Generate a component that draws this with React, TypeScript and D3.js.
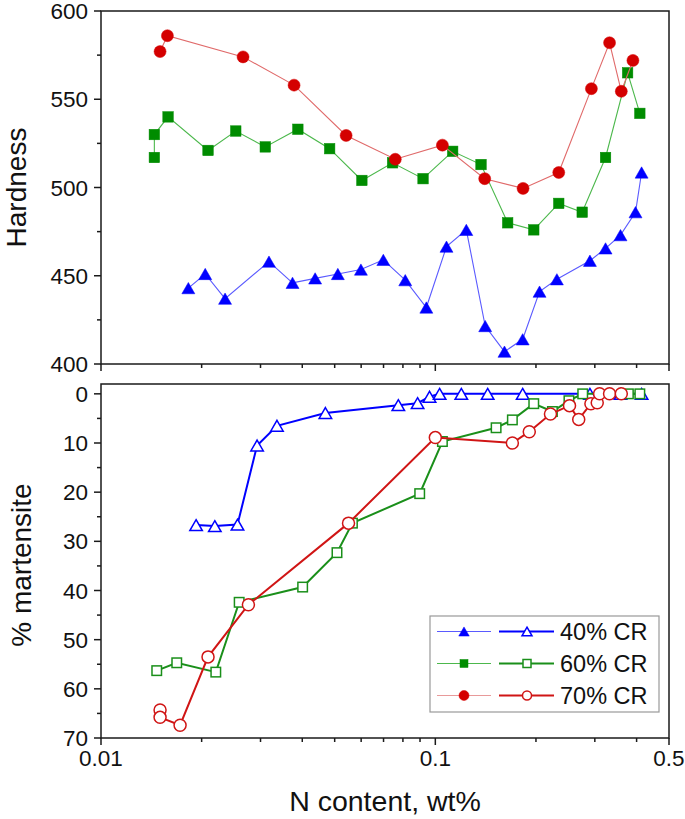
import React from "react";
import * as d3 from "d3";

// ---- Hardness panel data ----
const hBlueN = [0.01825, 0.0205, 0.0235, 0.0318, 0.0374, 0.0437, 0.0511, 0.0599, 0.0699, 0.0813, 0.094, 0.108, 0.1238, 0.141, 0.161, 0.1825, 0.205, 0.231, 0.29, 0.323, 0.358, 0.397, 0.414];
const hBlueV = [443, 451, 437, 458, 446, 448.5, 451, 453.5, 459, 447.5, 432, 466.5, 476, 421.5, 407, 414, 441, 448, 458.5, 465.5, 473, 486, 508.5];
const hGreenN = [0.01444, 0.01444, 0.01587, 0.0209, 0.0253, 0.031, 0.0388, 0.0483, 0.0603, 0.0745, 0.0919, 0.1127, 0.137, 0.1646, 0.197, 0.234, 0.275, 0.323, 0.376, 0.409];
const hGreenV = [517, 530, 540, 521, 532, 523, 533, 522, 504, 514, 505, 520.5, 513, 480, 476, 491, 486, 517, 565, 542];
const hRedN = [0.01502, 0.0158, 0.0266, 0.0378, 0.0541, 0.0759, 0.105, 0.1405, 0.183, 0.234, 0.293, 0.332, 0.36, 0.39];
const hRedV = [577, 586, 574, 558, 529.5, 516, 524, 505, 499.5, 508.5, 556, 582, 554.5, 572];

// ---- Martensite panel data ----
const mBlueN = [0.01925, 0.0219, 0.0256, 0.0293, 0.0336, 0.0469, 0.0775, 0.0885, 0.0961, 0.103, 0.1196, 0.1434, 0.1825, 0.29, 0.358, 0.414];
const mBlueV = [26.7, 26.9, 26.6, 10.5, 6.5, 3.9, 2.3, 1.9, 0.6, 0, 0, 0, 0, 0, 0, 0];
const mGreenN = [0.01468, 0.01685, 0.02205, 0.0259, 0.0401, 0.0508, 0.0565, 0.0898, 0.105, 0.152, 0.17, 0.197, 0.224, 0.251, 0.276, 0.378, 0.409];
const mGreenV = [56.3, 54.7, 56.6, 42.4, 39.3, 32.3, 26.3, 20.3, 9.7, 6.9, 5.3, 2.0, 3.6, 1.4, 0, 0, 0];
const mRedN = [0.01502, 0.01502, 0.01724, 0.0209, 0.0276, 0.055, 0.1, 0.17, 0.191, 0.221, 0.252, 0.2685, 0.292, 0.305, 0.31, 0.332, 0.36];
const mRedV = [64.3, 65.8, 67.4, 53.5, 42.9, 26.3, 8.9, 10.0, 7.7, 4.1, 2.4, 5.2, 2.0, 1.8, 0, 0, 0];

const xMajorTicks = [0.01, 0.1, 0.5];
const xMinorTicks = [0.02, 0.03, 0.04, 0.05, 0.06, 0.07, 0.08, 0.09, 0.2, 0.3, 0.4];
const xTickLabels = ["0.01", "0.1", "0.5"];
const hMajorTicks = [400, 450, 500, 550, 600];
const hMinorTicks = [425, 475, 525, 575];
const mMajorTicks = [0, 10, 20, 30, 40, 50, 60, 70];
const mMinorTicks = [5, 15, 25, 35, 45, 55, 65];
const legendLabels = ["40% CR", "60% CR", "70% CR"];

const FONT = "'Liberation Sans', Arial, Helvetica, sans-serif";

const C = {
  blue: "#0000ff", blueThin: "#5a5aff",
  green: "#008c00", greenThin: "#4cb84c", greenThick: "#1a8f1a",
  red: "#d40000", redThin: "#e06a6a", redThick: "#d01515",
  redLegendThin: "#e89a9a",
};

type Shape = "tri" | "sq" | "circ";

function Marker({ shape, x, y, size, fill, stroke, sw }: { shape: Shape; x: number; y: number; size: number; fill: string; stroke: string; sw: number }) {
  if (shape === "circ") return <circle cx={x} cy={y} r={size / 2} fill={fill} stroke={stroke} strokeWidth={sw} />;
  if (shape === "sq") return <rect x={x - size / 2} y={y - size / 2} width={size} height={size} fill={fill} stroke={stroke} strokeWidth={sw} />;
  const w = size, h = size * 0.87;
  const pts = `${x},${y - h / 2} ${x + w / 2},${y + h / 2} ${x - w / 2},${y + h / 2}`;
  return <polygon points={pts} fill={fill} stroke={stroke} strokeWidth={sw} strokeLinejoin="miter" />;
}

export default function App() {
  const W = 685, H = 819;
  const x0 = 101, x1 = 669;
  const tTop = 11, tBot = 364;
  const bTop = 384, bBot = 738;

  const x = d3.scaleLog().domain([0.01, 0.5]).range([x0, x1]);
  const yH = d3.scaleLinear().domain([400, 600]).range([tBot, tTop]);
  const yM = d3.scaleLinear().domain([-2, 70]).range([bTop, bBot]);

  const line = (xs: number[], vs: number[], ys: d3.ScaleLinear<number, number>) =>
    d3.line<number>().x((d, i) => x(xs[i])).y((d) => ys(d))(vs) || "";

  const topSeries = [
    { n: hBlueN, v: hBlueV, shape: "tri" as Shape, col: C.blue, lc: C.blueThin, size: 13 },
    { n: hGreenN, v: hGreenV, shape: "sq" as Shape, col: C.green, lc: C.greenThin, size: 10.5 },
    { n: hRedN, v: hRedV, shape: "circ" as Shape, col: C.red, lc: C.redThin, size: 12 },
  ];
  const botSeries = [
    { n: mBlueN, v: mBlueV, shape: "tri" as Shape, col: C.blue, lc: C.blue, size: 12.5 },
    { n: mGreenN, v: mGreenV, shape: "sq" as Shape, col: C.greenThick, lc: C.greenThick, size: 9.5 },
    { n: mRedN, v: mRedV, shape: "circ" as Shape, col: C.redThick, lc: C.redThick, size: 12 },
  ];

  const axisCol = "#1a1a1a";
  const tickFont = 22.5;

  const legend = { x: 430, y: 616, w: 229, h: 96 };
  const legendRows = [
    { shape: "tri" as Shape, col: C.blue, thin: C.blueThin, thick: C.blue },
    { shape: "sq" as Shape, col: C.green, thin: C.greenThin, thick: C.greenThick },
    { shape: "circ" as Shape, col: C.red, thin: C.redLegendThin, thick: C.redThick },
  ];

  return (
    <svg width={W} height={H} style={{ display: "block", position: "absolute", left: 0, top: 0, background: "#fff" }} fontFamily={FONT}>
      <rect x={0} y={0} width={W} height={H} fill="#fff" />

      {/* Top panel series */}
      {topSeries.map((s, si) => (
        <g key={"t" + si}>
          <path d={line(s.n, s.v, yH)} fill="none" stroke={s.lc} strokeWidth={1.1} />
          {s.v.map((v, i) => (
            <Marker key={i} shape={s.shape} x={x(s.n[i])} y={yH(v)} size={s.size} fill={s.col} stroke={s.col} sw={0.5} />
          ))}
        </g>
      ))}

      {/* Bottom panel series */}
      {botSeries.map((s, si) => (
        <g key={"b" + si}>
          <path d={line(s.n, s.v, yM)} fill="none" stroke={s.lc} strokeWidth={2} />
          {s.v.map((v, i) => (
            <Marker key={i} shape={s.shape} x={x(s.n[i])} y={yM(v)} size={s.size} fill="#fff" stroke={s.col} sw={1.5} />
          ))}
        </g>
      ))}

      {/* Frames */}
      <rect x={x0} y={tTop} width={x1 - x0} height={tBot - tTop} fill="none" stroke={axisCol} strokeWidth={1.5} />
      <rect x={x0} y={bTop} width={x1 - x0} height={bBot - bTop} fill="none" stroke={axisCol} strokeWidth={1.5} />

      {/* Top panel left ticks */}
      {hMajorTicks.map((t) => (
        <g key={"hm" + t}>
          <line x1={x0 - 7} x2={x0} y1={yH(t)} y2={yH(t)} stroke={axisCol} strokeWidth={1.5} />
          <text x={x0 - 13} y={yH(t)} dy="0.36em" textAnchor="end" fontSize={tickFont} fill="#111">{t}</text>
        </g>
      ))}
      {hMinorTicks.map((t) => (
        <line key={"hn" + t} x1={x0 - 4} x2={x0} y1={yH(t)} y2={yH(t)} stroke={axisCol} strokeWidth={1.5} />
      ))}

      {/* Bottom panel left ticks */}
      {mMajorTicks.map((t) => (
        <g key={"mm" + t}>
          <line x1={x0 - 7} x2={x0} y1={yM(t)} y2={yM(t)} stroke={axisCol} strokeWidth={1.5} />
          <text x={x0 - 13} y={yM(t)} dy="0.36em" textAnchor="end" fontSize={tickFont} fill="#111">{t}</text>
        </g>
      ))}
      {mMinorTicks.map((t) => (
        <line key={"mn" + t} x1={x0 - 4} x2={x0} y1={yM(t)} y2={yM(t)} stroke={axisCol} strokeWidth={1.5} />
      ))}

      {/* X ticks on both panels */}
      {[tBot, bBot].map((yb) => (
        <g key={"xa" + yb}>
          {xMajorTicks.map((t) => (
            <line key={"xM" + t} x1={x(t)} x2={x(t)} y1={yb} y2={yb + 7} stroke={axisCol} strokeWidth={1.5} />
          ))}
          {xMinorTicks.map((t) => (
            <line key={"xm" + t} x1={x(t)} x2={x(t)} y1={yb} y2={yb + 4} stroke={axisCol} strokeWidth={1.5} />
          ))}
        </g>
      ))}
      {xMajorTicks.map((t, i) => (
        <text key={"xl" + t} x={x(t)} y={bBot + 28} textAnchor="middle" fontSize={tickFont} fill="#111">{xTickLabels[i]}</text>
      ))}

      {/* Axis titles */}
      <text x={385} y={811} textAnchor="middle" fontSize={28.5} fill="#111">N content, wt%</text>
      <text transform={`translate(26,${(tTop + tBot) / 2}) rotate(-90)`} textAnchor="middle" fontSize={28} fill="#111">Hardness</text>
      <text transform={`translate(31,${(bTop + bBot) / 2 + 4}) rotate(-90)`} textAnchor="middle" fontSize={28} fill="#111">% martensite</text>

      {/* Legend */}
      <rect x={legend.x} y={legend.y} width={legend.w} height={legend.h} fill="#fff" stroke="#999" strokeWidth={1.2} />
      {legendRows.map((r, i) => {
        const ly = 631.5 + i * 32;
        return (
          <g key={"lg" + i}>
            <line x1={437} x2={491} y1={ly} y2={ly} stroke={r.thin} strokeWidth={1.2} />
            <Marker shape={r.shape} x={464} y={ly} size={r.shape === "circ" ? 10 : r.shape === "sq" ? 8 : 10.5} fill={r.col} stroke={r.col} sw={0.5} />
            <line x1={499} x2={554} y1={ly} y2={ly} stroke={r.thick} strokeWidth={2} />
            <Marker shape={r.shape} x={527} y={ly} size={r.shape === "circ" ? 9 : r.shape === "sq" ? 8 : 10} fill="#fff" stroke={r.thick} sw={1.5} />
            <text x={560} y={ly} dy="0.36em" fontSize={23.5} fill="#111">{legendLabels[i]}</text>
          </g>
        );
      })}
    </svg>
  );
}
